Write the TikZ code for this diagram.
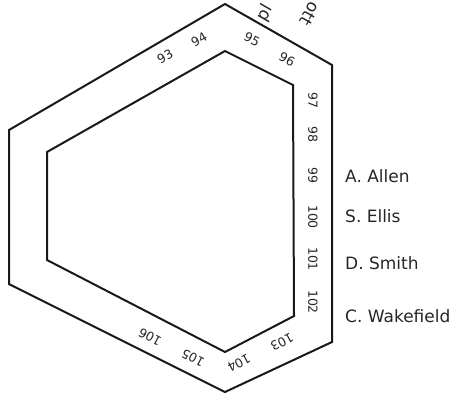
\documentclass[tikz,border=0pt]{standalone}
\usepackage{fontspec}
\setmainfont{DejaVu Sans}
\begin{document}
\begin{tikzpicture}[x=1pt,y=-1pt,
  hexline/.style={line width=2pt, line join=miter, color=black!90},
  num/.style={font=\fontsize{12.5}{13}\selectfont, text=black!85, inner sep=0pt},
  person/.style={font=\fontsize{17}{19}\selectfont, text=black!85, anchor=west, inner sep=0pt},
  cut/.style={font=\fontsize{17}{19}\selectfont, text=black!85, inner sep=0pt}]
\useasboundingbox (0,0) rectangle (454,400);
\begin{scope}
\clip (0,0) rectangle (454,400);
% outer hexagon
\coordinate (o1) at (225,4);
\coordinate (o2) at (332,65);
\coordinate (o3) at (332,342);
\coordinate (o4) at (225,392);
\coordinate (o5) at (9,284);
\coordinate (o6) at (9,130);
\draw[hexline] (o1) -- (o2) -- (o3) -- (o4) -- (o5) -- (o6) -- cycle;
% inner hexagon
\coordinate (i1) at (225,51);
\coordinate (i2) at (293,85);
\coordinate (i3) at (294,316);
\coordinate (i4) at (225,352);
\coordinate (i5) at (47,260);
\coordinate (i6) at (47,152);
\draw[hexline] (i1) -- (i2) -- (i3) -- (i4) -- (i5) -- (i6) -- cycle;
% seat numbers
\node[num, rotate=30] (n93) at (165,57) {93};
\node[num, rotate=30] (n94) at (199,40) {94};
\node[num, rotate=-28] (n95) at (252,39) {95};
\node[num, rotate=-28] (n96) at (287,59) {96};
\node[num, rotate=-90] (n97) at (313,100) {97};
\node[num, rotate=-90] (n98) at (313,134) {98};
\node[num, rotate=-90] (n99) at (313,175) {99};
\node[num, rotate=-90] (n100) at (313,217) {100};
\node[num, rotate=-90] (n101) at (313,259) {101};
\node[num, rotate=-90] (n102) at (313,302) {102};
\node[num, rotate=-152] (n103) at (282,342) {103};
\node[num, rotate=-152] (n104) at (239,363) {104};
\node[num, rotate=152] (n105) at (193,358) {105};
\node[num, rotate=152] (n106) at (150,337) {106};
% names
\node[person] (allen) at (345,176) {A. Allen};
\node[person] (ellis) at (345,216) {S. Ellis};
\node[person] (smith) at (345,263) {D. Smith};
\node[person] (wake) at (345,316) {C. Wakefield};
% clipped texts at top
\node[cut, rotate=60, anchor=west] (pl) at (261,20) {pl};
\node[cut, rotate=-120, anchor=east] (ott) at (304,24) {ott};
\end{scope}
\end{tikzpicture}
\end{document}
